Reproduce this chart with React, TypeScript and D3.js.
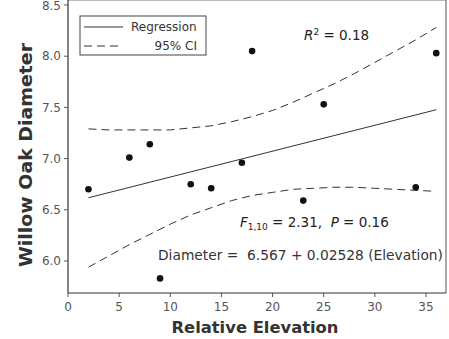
import React from "react";
import * as d3 from "d3";

const elevation = [2, 6, 8, 9, 12, 14, 17, 18, 23, 25, 34, 36];
const diameter = [6.70, 7.01, 7.14, 5.83, 6.75, 6.71, 6.96, 8.05, 6.59, 7.53, 6.72, 8.03];

const ciX = [2, 4, 6, 8, 10, 12, 14, 16, 18, 20, 22, 24, 26, 28, 30, 32, 34, 36];
const ciUpper = [7.29, 7.28, 7.28, 7.28, 7.28, 7.30, 7.32, 7.36, 7.41, 7.47, 7.55, 7.64, 7.73, 7.83, 7.94, 8.05, 8.16, 8.28];
const ciLower = [5.94, 6.05, 6.16, 6.26, 6.36, 6.45, 6.52, 6.59, 6.64, 6.67, 6.70, 6.71, 6.72, 6.72, 6.71, 6.70, 6.69, 6.68];

const intercept = 6.567;
const slope = 0.02528;
const fitRange = [2, 36];

const xTicks = [0, 5, 10, 15, 20, 25, 30, 35];
const yTicks = [6.0, 6.5, 7.0, 7.5, 8.0, 8.5];

const FONT = "DejaVu Sans, Verdana, sans-serif";

export default function App() {
  const W = 449, H = 339;
  const x = d3.scaleLinear().domain([0, 35]).range([68, 426]);
  const y = d3.scaleLinear().domain([6, 8.5]).range([261, 5]);
  const left = 68, right = 446, top = 0, bottom = 293;

  const line = d3.line<[number, number]>().x(d => x(d[0])).y(d => y(d[1]));
  const fitPts: [number, number][] = fitRange.map(v => [v, intercept + slope * v]);
  const upPts: [number, number][] = ciX.map((v, i) => [v, ciUpper[i]]);
  const loPts: [number, number][] = ciX.map((v, i) => [v, ciLower[i]]);

  const tickColor = "#555";
  return (
    <svg width={W} height={H} style={{ position: "absolute", left: 0, top: 0, background: "#fff" }} fontFamily={FONT}>
      <rect x={0} y={0} width={W} height={H} fill="#fff" />
      {/* frame */}
      <line x1={left} x2={right} y1={top + 0.5} y2={top + 0.5} stroke="#bbb" />
      <line x1={right} x2={right} y1={top} y2={bottom} stroke="#555" />
      <line x1={left} x2={left} y1={top} y2={bottom} stroke="#333" strokeWidth={1.2} />
      <line x1={left} x2={right} y1={bottom} y2={bottom} stroke="#333" strokeWidth={1.2} />
      {/* y ticks */}
      {yTicks.map(t => (
        <g key={"y" + t}>
          <line x1={left - 4} x2={left} y1={y(t)} y2={y(t)} stroke="#555" />
          <text x={left - 7} y={Math.max(y(t), 6)} dy="0.35em" textAnchor="end" fontSize={12} fill={tickColor}>{t.toFixed(1)}</text>
        </g>
      ))}
      {/* x ticks */}
      {xTicks.map(t => (
        <g key={"x" + t}>
          <line x1={x(t)} x2={x(t)} y1={bottom} y2={bottom + 4} stroke="#555" />
          <text x={x(t)} y={bottom + 18} textAnchor="middle" fontSize={12} fill={tickColor}>{t}</text>
        </g>
      ))}
      {/* axis titles */}
      <text x={255} y={333} textAnchor="middle" fontSize={16} fontWeight="bold" fill="#333"
        textLength={167} lengthAdjust="spacingAndGlyphs">Relative Elevation</text>
      <text transform="translate(32,155) rotate(-90)" textAnchor="middle" fontSize={17} fontWeight="bold" fill="#333"
        textLength={224} lengthAdjust="spacingAndGlyphs">Willow Oak Diameter</text>
      {/* lines */}
      <path d={line(upPts) || ""} fill="none" stroke="#333" strokeWidth={1} strokeDasharray="8,5" />
      <path d={line(loPts) || ""} fill="none" stroke="#333" strokeWidth={1} strokeDasharray="8,5" />
      <path d={line(fitPts) || ""} fill="none" stroke="#333" strokeWidth={1} />
      {/* points */}
      {elevation.map((v, i) => (
        <circle key={i} cx={x(v)} cy={y(diameter[i])} r={3.3} fill="#111" />
      ))}
      {/* legend */}
      <rect x={80} y={16} width={126} height={39} fill="#fff" stroke="#444" />
      <line x1={84} x2={123} y1={27} y2={27} stroke="#333" />
      <text x={131} y={27} dy="0.35em" fontSize={12} fill="#333">Regression</text>
      <line x1={84} x2={123} y1={46} y2={46} stroke="#333" strokeDasharray="8,5" />
      <text x={197} y={46} dy="0.35em" textAnchor="end" fontSize={12} fill="#333">95% CI</text>
      {/* annotations */}
      <text x={304} y={40} fontSize={13.5} fill="#222">
        <tspan fontStyle="italic">R</tspan>
        <tspan fontSize={9} dy={-5}>2</tspan>
        <tspan dy={5}> = 0.18</tspan>
      </text>
      <text x={240} y={227} fontSize={13.5} fill="#222" style={{ whiteSpace: "pre" }}>
        <tspan fontStyle="italic">F</tspan>
        <tspan fontSize={9} dy={3}>1,10</tspan>
        <tspan dy={-3}>{" = 2.31,  "}</tspan>
        <tspan fontStyle="italic">P</tspan>
        <tspan>{" = 0.16"}</tspan>
      </text>
      <text x={158} y={260} fontSize={13.5} fill="#333" style={{ whiteSpace: "pre" }}
        textLength={285} lengthAdjust="spacingAndGlyphs">{"Diameter =  6.567 + 0.02528 (Elevation)"}</text>
    </svg>
  );
}
